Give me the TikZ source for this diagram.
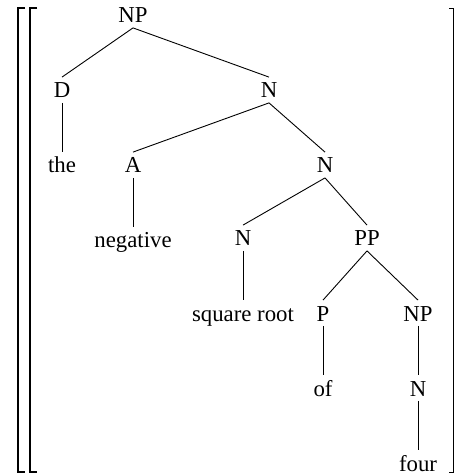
\documentclass[tikz,border=0pt]{standalone}
\usepackage{fontspec}
\setmainfont{Liberation Serif}
\usepackage{tikz}
\usetikzlibrary{positioning}
\definecolor{linec}{HTML}{000000}
\tikzset{
  cat/.style={inner sep=0pt,text height=10.25pt,text depth=2.25pt,font=\fontsize{11.4}{13.7}\selectfont},
  br/.style={draw=linec,line width=1pt},
  ed/.style={draw=linec,line width=0.45pt}
}
\begin{document}
\begin{tikzpicture}[x=0.5pt,y=-0.5pt]
\useasboundingbox (0,0) rectangle (455,475);
% brackets
\draw[br] (25,8)--(18,8)--(18,472)--(25,472);
\draw[br] (37,8)--(30,8)--(30,472)--(37,472);
\draw[ed] (449,8)--(453,8)--(453,472)--(449,472);
% tree
\node[cat] (np) at (133,15) {NP};
\node[cat] (d) at (62,90) {D};
\node[cat] (n1) at (269,90) {N};
\node[cat] (the) at (62,165) {the};
\node[cat] (a) at (133,165) {A};
\node[cat] (n2) at (325,165) {N};
\node[cat] (neg) at (133,240) {negative};
\node[cat] (n3) at (243,238) {N};
\node[cat] (pp) at (367,238) {PP};
\node[cat] (sq) at (243,313) {square root};
\node[cat] (p) at (323,313) {P};
\node[cat] (np2) at (418,313) {NP};
\node[cat] (of) at (323,388) {of};
\node[cat] (n4) at (418,388) {N};
\node[cat] (four) at (418,463) {four};
\foreach \u/\v in {np/d,np/n1,d/the,n1/a,n1/n2,a/neg,n2/n3,n2/pp,n3/sq,pp/p,pp/np2,p/of,np2/n4,n4/four}
  \draw[ed] (\u.south)--(\v.north);
\end{tikzpicture}
\end{document}
